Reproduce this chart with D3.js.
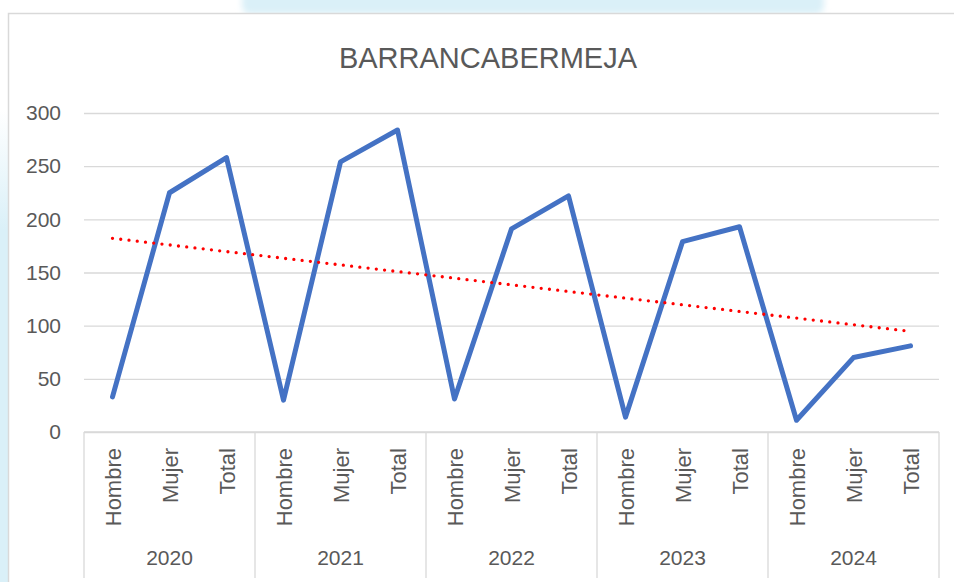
<!DOCTYPE html>
<html>
<head>
<meta charset="utf-8">
<script src="https://cdn.jsdelivr.net/npm/d3@7"></script>
<style>
  html, body { margin: 0; padding: 0; background: #fff; }
  svg { display: block; }
  text { font-family: "Liberation Sans", Arial, sans-serif; fill: #595959; }
</style>
</head>
<body>
<svg id="chart" width="954" height="582"></svg>
<script>
// ---- Data ----
const title = "BARRANCABERMEJA";
const years = ["2020", "2021", "2022", "2023", "2024"];
const subcats = ["Hombre", "Mujer", "Total"];
const hombre = [33, 30, 31, 14, 11];
const mujer = [225, 254, 191, 179, 70];
const total = [258, 284, 222, 193, 81];
const yTicks = [0, 50, 100, 150, 200, 250, 300];

// ---- Build flat series ----
const seriesBySub = { Hombre: hombre, Mujer: mujer, Total: total };
const points = [];
years.forEach((yr, i) => {
  subcats.forEach(sc => {
    points.push({ key: yr + "|" + sc, year: yr, sub: sc, value: seriesBySub[sc][i] });
  });
});

const svg = d3.select("#chart");
const W = 954, H = 582;
const plot = { left: 84, right: 939, top: 113, bottom: 432 };

// ---- Background decorations ----
const defs = svg.append("defs");
const blur = defs.append("filter").attr("id", "soft").attr("x", "-10%").attr("y", "-50%").attr("width", "120%").attr("height", "200%");
blur.append("feGaussianBlur").attr("stdDeviation", 3);
const lg = defs.append("linearGradient").attr("id", "leftgrad").attr("x1", 0).attr("y1", 0).attr("x2", 0).attr("y2", 1);
lg.append("stop").attr("offset", "0%").attr("stop-color", "#daf0f8").attr("stop-opacity", 0);
lg.append("stop").attr("offset", "25%").attr("stop-color", "#daf0f8").attr("stop-opacity", 1);
lg.append("stop").attr("offset", "100%").attr("stop-color", "#daf0f8").attr("stop-opacity", 1);

svg.append("rect").attr("x", 242).attr("y", -10).attr("width", 582).attr("height", 24)
  .attr("rx", 8).attr("fill", "#daf0f8").attr("filter", "url(#soft)");
svg.append("rect").attr("x", 0).attr("y", 110).attr("width", 8).attr("height", 480)
  .attr("fill", "url(#leftgrad)");

// chart area (white) with border
svg.append("rect").attr("x", 8.5).attr("y", 13.5).attr("width", 960).attr("height", 600)
  .attr("fill", "#fff").attr("stroke", "#d9d9d9").attr("stroke-width", 1.5);

// ---- Scales ----
const x = d3.scaleBand().domain(points.map(d => d.key)).range([plot.left, plot.right]).padding(0);
const xc = k => x(k) + x.bandwidth() / 2;
const y = d3.scaleLinear().domain([0, 300]).range([plot.bottom, plot.top]);

// ---- Y axis & gridlines ----
const yAxis = d3.axisLeft(y).tickValues(yTicks).tickSize(-(plot.right - plot.left)).tickPadding(23);
const gy = svg.append("g").attr("transform", `translate(${plot.left},0)`).call(yAxis);
gy.select(".domain").remove();
gy.selectAll(".tick line").attr("stroke", "#d9d9d9").attr("stroke-width", 1.3);
gy.selectAll(".tick text").attr("font-size", 21).attr("fill", "#595959")
  .style("font-family", "'Liberation Sans', Arial, sans-serif");

// ---- X axis (multi-level) ----
const gx = svg.append("g");
gx.append("line").attr("x1", plot.left).attr("x2", plot.right).attr("y1", plot.bottom).attr("y2", plot.bottom)
  .attr("stroke", "#d9d9d9").attr("stroke-width", 1.3);

// group separators
const groupEdges = years.map(yr => x(yr + "|" + subcats[0]));
groupEdges.push(plot.right);
gx.selectAll("line.sep").data(groupEdges).join("line").attr("class", "sep")
  .attr("x1", d => d).attr("x2", d => d).attr("y1", plot.bottom).attr("y2", 578)
  .attr("stroke", "#d9d9d9").attr("stroke-width", 1.3);

// category labels (rotated)
gx.selectAll("text.cat").data(points).join("text").attr("class", "cat")
  .attr("transform", d => `translate(${xc(d.key) + 8},448) rotate(-90)`)
  .attr("text-anchor", "end").attr("font-size", 22).text(d => d.sub);

// year labels
gx.selectAll("text.year").data(years).join("text").attr("class", "year")
  .attr("x", yr => (x(yr + "|" + subcats[0]) + x(yr + "|" + subcats[2]) + x.bandwidth()) / 2)
  .attr("y", 565).attr("text-anchor", "middle").attr("font-size", 21).text(yr => yr);

// ---- Line ----
const line = d3.line().x(d => xc(d.key)).y(d => y(d.value));
svg.append("path").datum(points).attr("d", line)
  .attr("fill", "none").attr("stroke", "#4472c4").attr("stroke-width", 5)
  .attr("stroke-linejoin", "round").attr("stroke-linecap", "round");

// ---- Linear trendline (least squares over category index) ----
const n = points.length;
const idx = points.map((d, i) => i + 1);
const mx = d3.mean(idx), my = d3.mean(points, d => d.value);
const sxy = d3.sum(points, (d, i) => (idx[i] - mx) * (d.value - my));
const sxx = d3.sum(idx, v => (v - mx) * (v - mx));
const slope = sxy / sxx, intercept = my - slope * mx;
const trend = [points[0], points[n - 1]].map((d, j) => {
  const i = j === 0 ? 1 : n;
  return { key: d.key, value: intercept + slope * i };
});
svg.append("path").datum(trend).attr("d", line)
  .attr("fill", "none").attr("stroke", "#ff0000").attr("stroke-width", 3.3)
  .attr("stroke-linecap", "round").attr("stroke-dasharray", "0 8.3");

// ---- Title ----
svg.append("text").attr("x", 488).attr("y", 68).attr("text-anchor", "middle")
  .attr("font-size", 29).text(title);
</script>
</body>
</html>
